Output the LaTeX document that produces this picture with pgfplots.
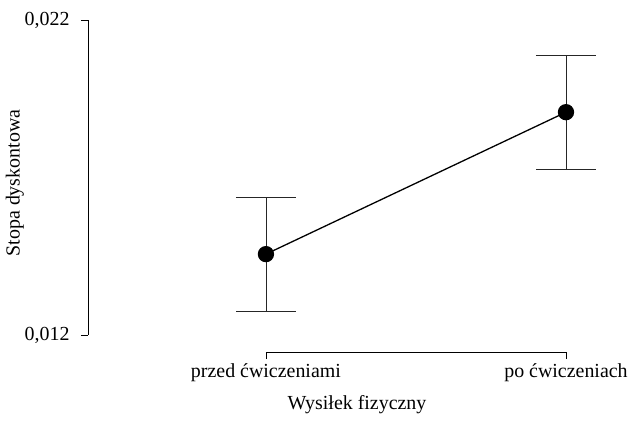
\documentclass[border=0pt]{standalone}
\usepackage{pgfplots}
\pgfplotsset{compat=1.18}
\usepackage{fontspec}
\setmainfont{Liberation Serif}
\begin{document}
\begin{tikzpicture}
\begin{axis}[
  scale only axis,
  width=538bp, height=338bp,
  xmin=-0.593, xmax=1.2,
  ymin=11.46, ymax=22.2,
  axis line style={draw=none},
  tick align=outside,
  xtick pos=bottom, ytick pos=left,
  xtick={0,1}, xticklabels={przed ćwiczeniami, po ćwiczeniach},
  ytick={12,22}, yticklabels={{0,012},{0,022}},
  scaled y ticks=false,
  major tick length=7bp,
  tick style={black, line width=0.6pt},
  x tick label style={font=\fontsize{20}{24}\selectfont, yshift=-1bp},
  y tick label style={font=\fontsize{20}{24}\selectfont, xshift=-8bp},
  xlabel={Wysiłek fizyczny},
  ylabel={Stopa dyskontowa},
  label style={font=\fontsize{20}{24}\selectfont},
  xlabel style={yshift=-7bp},
  ylabel style={yshift=-6bp},
  clip=false,
]
\coordinate (O) at (rel axis cs:0,0);
\draw[black, line width=0.6pt] (axis cs:-0.593,12) -- (axis cs:-0.593,22);
\draw[black, line width=0.6pt] (axis cs:0,11.46) -- (axis cs:1,11.46);
\addplot[black, line width=1.3pt, mark=*, mark size=7.5bp,
  mark options={fill=black},
  error bars/.cd, y dir=both, y explicit,
  error bar style={line width=0.7pt, black!85},
  error mark=-, error mark options={rotate=90, mark size=30bp, line width=0.7pt, black!85}]
  coordinates {
    (0,14.57) +- (0,1.81)
    (1,19.08) +- (0,1.81)
  };
\end{axis}
\path ([shift={(-88bp,-72bp)}]O) rectangle ([shift={(545bp,352bp)}]O);
\end{tikzpicture}
\end{document}
